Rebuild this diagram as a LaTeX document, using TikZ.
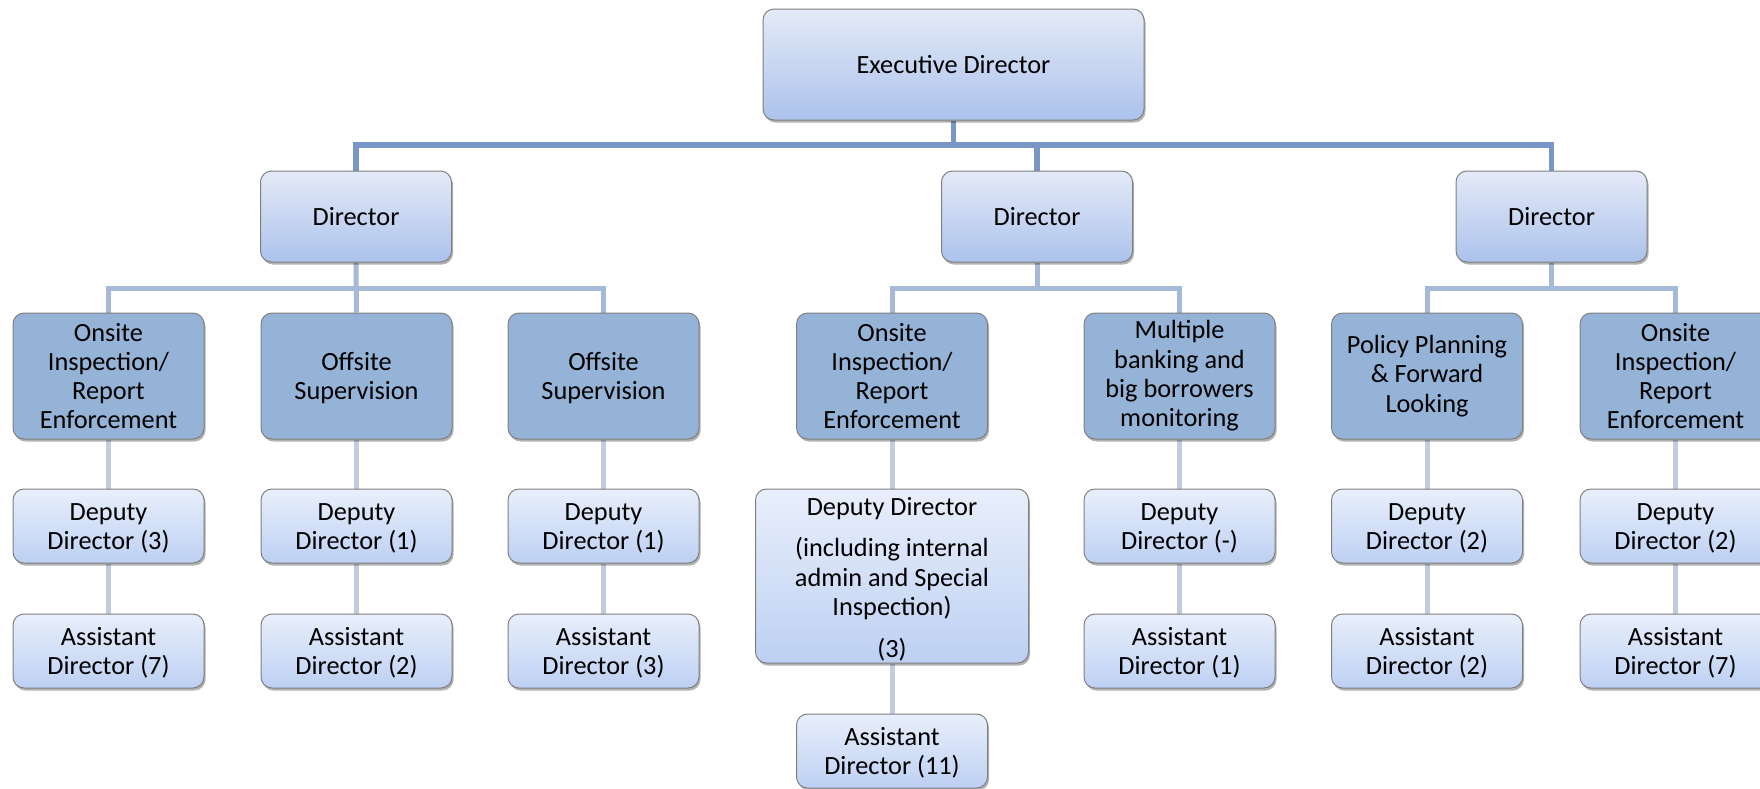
\documentclass[tikz,border=0pt]{standalone}
\usepackage{fontspec}
\setmainfont{Carlito}
\usetikzlibrary{shadows,backgrounds}
\definecolor{bordergray}{HTML}{7F7F7F}
\definecolor{gtop}{HTML}{E4EAF7}
\definecolor{gbot}{HTML}{ACC2EC}
\definecolor{dtop}{HTML}{E9EFFB}
\definecolor{dbot}{HTML}{BDD0F3}
\definecolor{unitblue}{HTML}{95B3D7}
\definecolor{conA}{HTML}{7896C6}
\definecolor{conB}{HTML}{A6B9D9}
\definecolor{conC}{HTML}{C0CCE2}
\newcommand\tstrut{\rule{0pt}{22pt}}
\tikzset{
  base/.style={rounded corners=11pt, draw=bordergray, line width=1pt, align=center,
    text=black, inner sep=2pt,
    drop shadow={shadow xshift=1.5pt, shadow yshift=-2.5pt, opacity=0.3, fill=black},
    font=\fontsize{26.3}{29.3}\selectfont},
  edbox/.style={base, top color=gtop, bottom color=gbot, minimum width=381pt, minimum height=111pt},
  dirbox/.style={base, top color=gtop, bottom color=gbot, minimum width=191pt, minimum height=91pt},
  unitbox/.style={base, fill=unitblue, minimum width=191pt, minimum height=126pt},
  depbox/.style={base, top color=dtop, bottom color=dbot, minimum width=191pt, minimum height=74pt},
  conone/.style={draw=conA, line width=5.5pt},
  contwo/.style={draw=conB, line width=5pt},
  conthree/.style={draw=conC, line width=5pt},
}
\begin{document}
\begin{tikzpicture}[x=1pt,y=-1pt]
\useasboundingbox (0,0) rectangle (1760,788);
% top
\node[edbox] (ed) at (953.5,64.5) {Executive Director};
% directors
\node[dirbox] (d1) at (356,216.5) {Director};
\node[dirbox] (d2) at (1037,216.5) {Director};
\node[dirbox] (d3) at (1551.5,216.5) {Director};
% units
\node[unitbox] (u1) at (108.5,376) {Onsite\\Inspection/\\Report\\Enforcement};
\node[unitbox] (u2) at (356.5,376) {\tstrut Offsite\\Supervision};
\node[unitbox] (u3) at (603.5,376) {\tstrut Offsite\\Supervision};
\node[unitbox] (u4) at (892,376) {Onsite\\Inspection/\\Report\\Enforcement};
\node[unitbox] (u5) at (1179.5,376) {Multiple\\banking and\\big borrowers\\monitoring};
\node[unitbox] (u6) at (1427,376) {Policy Planning\\\& Forward\\Looking};
\node[unitbox] (u7) at (1675.5,376) {Onsite\\Inspection/\\Report\\Enforcement};
% deputies
\node[depbox] (p1) at (108.5,526) {\tstrut Deputy\\Director (3)};
\node[depbox] (p2) at (356.5,526) {\tstrut Deputy\\Director (1)};
\node[depbox] (p3) at (603.5,526) {\tstrut Deputy\\Director (1)};
\node[depbox, minimum width=273pt, minimum height=174pt] (p4) at (892,576)
  {\raisebox{61pt}[0pt][0pt]{\begin{tabular}[t]{@{}c@{}}Deputy Director\\[12.5pt](including internal\\admin and Special\\Inspection)\\[12.5pt](3)\end{tabular}}};
\node[depbox] (p5) at (1179.5,526) {\tstrut Deputy\\Director (-)};
\node[depbox] (p6) at (1427,526) {\tstrut Deputy\\Director (2)};
\node[depbox] (p7) at (1675.5,526) {\tstrut Deputy\\Director (2)};
% assistants
\node[depbox] (a1) at (108.5,651) {\tstrut Assistant\\Director (7)};
\node[depbox] (a2) at (356.5,651) {\tstrut Assistant\\Director (2)};
\node[depbox] (a3) at (603.5,651) {\tstrut Assistant\\Director (3)};
\node[depbox] (a4) at (892,751) {\tstrut Assistant\\Director (11)};
\node[depbox] (a5) at (1179.5,651) {\tstrut Assistant\\Director (1)};
\node[depbox] (a6) at (1427,651) {\tstrut Assistant\\Director (2)};
\node[depbox] (a7) at (1675.5,651) {\tstrut Assistant\\Director (7)};
% connectors
\begin{scope}[on background layer]
\coordinate (busA) at (0,145);
\draw[conone] (d1.north) -- (d1.north|-busA) -- (d3.north|-busA) -- (d3.north);
\draw[conone] (ed.south) -- (ed.south|-busA);
\draw[conone] (d2.north) -- (d2.north|-busA);
\coordinate (busB) at (0,288);
\draw[contwo] (u1.north) -- (u1.north|-busB) -- (u3.north|-busB) -- (u3.north);
\draw[contwo] (d1.south) -- (u2.north);
\draw[contwo] (u4.north) -- (u4.north|-busB) -- (u5.north|-busB) -- (u5.north);
\draw[contwo] (d2.south) -- (d2.south|-busB);
\draw[contwo] (u6.north) -- (u6.north|-busB) -- (u7.north|-busB) -- (u7.north);
\draw[contwo] (d3.south) -- (d3.south|-busB);
\foreach \i in {1,...,7}{
  \draw[conthree] (u\i.south) -- (p\i.north);
  \draw[conthree] (p\i.south) -- (a\i.north);
}
\end{scope}
\end{tikzpicture}
\end{document}
